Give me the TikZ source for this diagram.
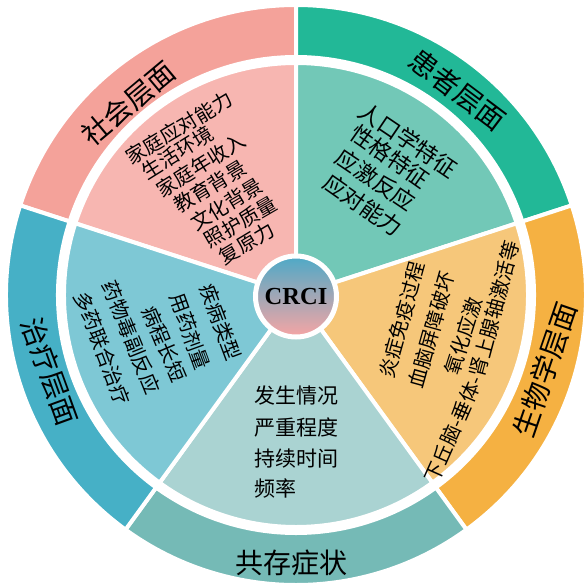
\documentclass[tikz,border=0pt]{standalone}
\usepackage{fontspec}
\newfontfamily\cjk{Noto Sans CJK SC}
\newfontfamily\tnr{Liberation Serif}
\definecolor{ringSoc}{HTML}{F4A29A}
\definecolor{pieSoc}{HTML}{F7B6B1}
\definecolor{ringPat}{HTML}{22B897}
\definecolor{piePat}{HTML}{72C8B7}
\definecolor{ringBio}{HTML}{F5B142}
\definecolor{pieBio}{HTML}{F6C77A}
\definecolor{ringCo}{HTML}{75BAB6}
\definecolor{pieCo}{HTML}{AAD3D2}
\definecolor{ringTx}{HTML}{46B0C6}
\definecolor{pieTx}{HTML}{7EC8D5}
\definecolor{crciTop}{HTML}{4DA9C7}
\definecolor{crciMid}{HTML}{B6AAC2}
\definecolor{crciBot}{HTML}{F7A5A4}
\begin{document}
\begin{tikzpicture}[x=1pt,y=1pt,
  sector/.style={draw=white, line width=4pt, line join=round},
  outerlbl/.style={inner sep=0pt, font=\cjk\fontsize{28}{28}\selectfont},
  innerlbl/.style={inner sep=0pt, font=\cjk\fontsize{20}{20}\selectfont},
  patlbl/.style={inner sep=0pt, font=\cjk\fontsize{22.5}{22.5}\selectfont},
  colbl/.style={inner sep=0pt, anchor=west, font=\cjk\fontsize{21}{21}\selectfont},
]
\useasboundingbox (-296,-287) rectangle (289,295);
% outer ring
\foreach \a/\c in {90/ringSoc,18/ringPat,-54/ringBio,-126/ringCo,162/ringTx}
  \filldraw[sector, fill=\c] (\a:290) arc[start angle=\a, delta angle=72, radius=290]
    -- ({\a+72}:238) arc[start angle={\a+72}, delta angle=-72, radius=238] -- cycle;
% inner pie
\foreach \a/\c in {90/pieSoc,18/piePat,-54/pieBio,-126/pieCo,162/pieTx}
  \filldraw[sector, fill=\c] (0,0) -- (\a:232) arc[start angle=\a, delta angle=72, radius=232] -- cycle;
% centre
\node[circle, draw=white, line width=5pt, minimum size=81pt, inner sep=0pt,
      top color=crciTop, middle color=crciMid, bottom color=crciBot,
      font=\tnr\bfseries\fontsize{24.5}{24.5}\selectfont] (crci) at (0,-1.5) {CRCI};
% outer labels
\node[outerlbl, rotate=40] (socL) at (-167.7,191.7) {社会层面};
\node[outerlbl, rotate=-37] (patL) at (161.5,205) {患者层面};
\node[outerlbl, rotate=71] (bioL) at (249,-75) {生物学层面};
\node[outerlbl] (coL) at (-5,-268) {共存症状};
\node[outerlbl, rotate=-70] (txL) at (-246,-76.7) {治疗层面};
% social
\node[innerlbl, rotate=31] (s1) at (-117,167) {家庭应对能力};
\node[innerlbl, rotate=32] (s2) at (-118.5,142.5) {生活环境};
\node[innerlbl, rotate=32] (s3) at (-95.2,130) {家庭年收入};
\node[innerlbl, rotate=31] (s4) at (-86,108.3) {教育背景};
\node[innerlbl, rotate=31] (s5) at (-69.3,90.8) {文化背景};
\node[innerlbl, rotate=30] (s6) at (-55.2,73.3) {照护质量};
\node[innerlbl, rotate=31] (s7) at (-49.3,51.7) {复原力};
% patient
\node[patlbl, rotate=-34] (p1) at (112.3,155) {人口学特征};
\node[patlbl, rotate=-35] (p2) at (94,138.3) {性格特征};
\node[patlbl, rotate=-34] (p3) at (79.8,115) {应激反应};
\node[patlbl, rotate=-35] (p4) at (67.3,90) {应对能力};
% biology
\node[innerlbl, rotate=74.5] (b1) at (105.7,-25) {炎症免疫过程};
\node[innerlbl, rotate=74.5] (b2) at (135.7,-35) {血脑屏障破坏};
\node[innerlbl, rotate=72.5] (b3) at (167,-40.8) {氧化应激};
\coordinate (bj) at (180.5,-82);
\node[innerlbl, rotate=66, anchor=east] (b4a) at (bj) {下丘脑-垂体-};
\node[innerlbl, rotate=75, anchor=west] (b4b) at (bj) {肾上腺轴激活等};
% coexisting symptoms
\node[colbl] (c1) at (-42,-101) {发生情况};
\node[colbl] (c2) at (-42,-132.5) {严重程度};
\node[colbl] (c3) at (-42,-164) {持续时间};
\node[colbl] (c4) at (-42,-193.5) {频率};
% treatment
\node[innerlbl, rotate=-69.5] (t1) at (-75,-27.5) {疾病类型};
\node[innerlbl, rotate=-70] (t2) at (-106,-36.5) {用药剂量};
\node[innerlbl, rotate=-67] (t3) at (-131.5,-49) {病程长短};
\node[innerlbl, rotate=-68] (t4) at (-164.5,-42.5) {药物毒副反应};
\node[innerlbl, rotate=-69] (t5) at (-193.5,-53.5) {多药联合治疗};
\end{tikzpicture}
\end{document}
